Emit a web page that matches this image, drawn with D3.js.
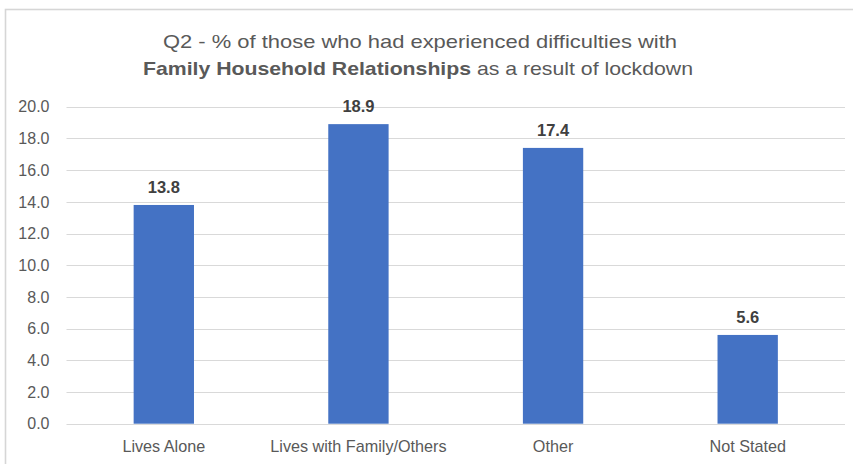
<!DOCTYPE html>
<html>
<head>
<meta charset="utf-8">
<script src="https://cdn.jsdelivr.net/npm/d3@7"></script>
<style>
  html, body { margin: 0; padding: 0; background: #fff; }
  svg { display: block; }
  text { font-family: "Liberation Sans", Arial, sans-serif; }
</style>
</head>
<body>
<svg id="chart" width="853" height="464"></svg>
<script>
// Household type categories and the share (%) reporting difficulties
const categories = ["Lives Alone", "Lives with Family/Others", "Other", "Not Stated"];
const values = [13.8, 18.9, 17.4, 5.6];
const yTicks = [0, 2, 4, 6, 8, 10, 12, 14, 16, 18, 20];
const titleLine1 = "Q2 - % of those who had experienced difficulties with";
const titleBold = "Family Household Relationships";
const titleRest = " as a result of lockdown";

const svg = d3.select("#chart");

// Outer frame of the chart area
svg.append("rect")
  .attr("x", 5.5).attr("y", 9.5)
  .attr("width", 900).attr("height", 500)
  .attr("fill", "#fff")
  .attr("stroke", "#d6d6d6")
  .attr("stroke-width", 1.6);

const plot = { left: 66.5, right: 845, top: 106.7, bottom: 423.7 };

const x = d3.scaleBand()
  .domain(categories)
  .range([plot.left, plot.right])
  .paddingInner(0.69)
  .paddingOuter(0.345);

const y = d3.scaleLinear()
  .domain([0, 20])
  .range([plot.bottom, plot.top]);

// Horizontal gridlines
svg.append("g")
  .selectAll("line")
  .data(yTicks)
  .join("line")
  .attr("x1", plot.left).attr("x2", plot.right)
  .attr("y1", d => Math.round(y(d)) + 0.5)
  .attr("y2", d => Math.round(y(d)) + 0.5)
  .attr("stroke", "#d9d9d9")
  .attr("stroke-width", 1.2);

// Y axis tick labels
svg.append("g")
  .selectAll("text")
  .data(yTicks)
  .join("text")
  .attr("x", 49.5)
  .attr("y", d => y(d))
  .attr("dy", "0.36em")
  .attr("text-anchor", "end")
  .attr("font-size", 16)
  .attr("fill", "#595959")
  .text(d3.format(".1f"));

// Bars
svg.append("g")
  .selectAll("rect")
  .data(values)
  .join("rect")
  .attr("x", (d, i) => x(categories[i]))
  .attr("width", x.bandwidth())
  .attr("y", d => y(d))
  .attr("height", d => y(0) - y(d))
  .attr("fill", "#4472c4");

// Value labels above bars
svg.append("g")
  .selectAll("text")
  .data(values)
  .join("text")
  .attr("x", (d, i) => x(categories[i]) + x.bandwidth() / 2)
  .attr("y", d => y(d) - 12)
  .attr("text-anchor", "middle")
  .attr("font-size", 16.5)
  .attr("font-weight", "bold")
  .attr("fill", "#404040")
  .text(d => d3.format(".1f")(d));

// Category labels
svg.append("g")
  .selectAll("text")
  .data(categories)
  .join("text")
  .attr("x", d => x(d) + x.bandwidth() / 2)
  .attr("y", 451.5)
  .attr("text-anchor", "middle")
  .attr("font-size", 16.2)
  .attr("fill", "#595959")
  .text(d => d);

// Two-line title
const title = svg.append("g").attr("fill", "#595959");
title.append("text")
  .attr("x", 420).attr("y", 47.5)
  .attr("text-anchor", "middle")
  .attr("font-size", 18.5)
  .attr("textLength", 514)
  .attr("lengthAdjust", "spacingAndGlyphs")
  .text(titleLine1);

const t2 = title.append("text")
  .attr("x", 418).attr("y", 75)
  .attr("text-anchor", "middle")
  .attr("font-size", 18.5)
  .attr("textLength", 550)
  .attr("lengthAdjust", "spacingAndGlyphs");
t2.append("tspan").attr("font-weight", "bold").text(titleBold);
t2.append("tspan").text(titleRest);
</script>
</body>
</html>
